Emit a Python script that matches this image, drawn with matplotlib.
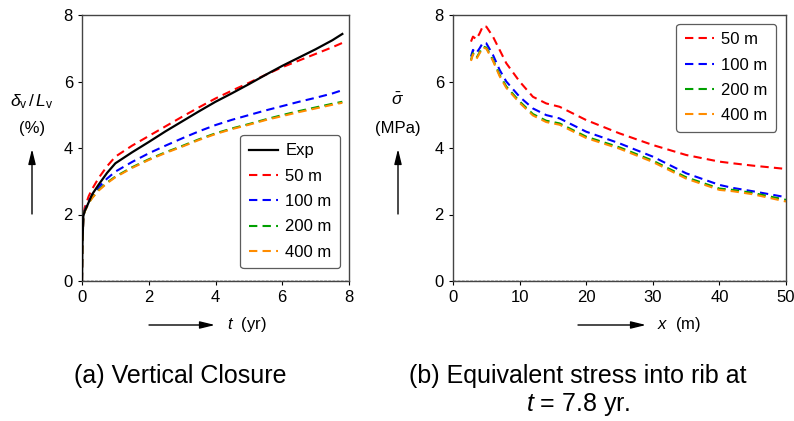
import matplotlib
matplotlib.use("Agg")
import matplotlib.pyplot as plt
import numpy as np

plt.rcParams['font.family'] = ['Liberation Sans', 'DejaVu Sans']
plt.rcParams['mathtext.fontset'] = 'custom'
plt.rcParams['mathtext.it'] = 'Liberation Sans:italic'
plt.rcParams['mathtext.rm'] = 'Liberation Sans'

# ---- (a) vertical closure ----
t_exp = [0.0, 0.01, 0.04, 0.08, 0.15, 0.3, 0.5, 0.75, 1.0, 1.5, 2.0, 2.5, 3.0, 3.5, 4.0, 4.5, 5.0, 5.5, 6.0, 6.5, 7.0, 7.5, 7.8]
v_exp = [0.0, 1.0, 1.95, 2.1, 2.25, 2.6, 2.9, 3.25, 3.54, 3.87, 4.18, 4.5, 4.8, 5.1, 5.39, 5.65, 5.92, 6.2, 6.47, 6.72, 6.97, 7.24, 7.43]

t_sim = [0.0, 0.01, 0.04, 0.08, 0.2, 0.3, 0.5, 0.75, 1.0, 1.5, 2.0, 2.5, 3.0, 3.5, 4.0, 4.5, 5.0, 5.5, 6.0, 6.5, 7.0, 7.5, 7.8]
v_50 = [0.0, 1.0, 1.95, 2.2, 2.55, 2.76, 3.1, 3.45, 3.74, 4.07, 4.36, 4.65, 4.94, 5.22, 5.49, 5.73, 5.96, 6.2, 6.43, 6.63, 6.83, 7.03, 7.16]
v_100 = [0.0, 1.0, 1.95, 2.12, 2.4, 2.55, 2.82, 3.08, 3.29, 3.58, 3.84, 4.07, 4.29, 4.5, 4.69, 4.85, 4.99, 5.13, 5.26, 5.39, 5.51, 5.64, 5.74]
v_200 = [0.0, 1.0, 1.95, 2.1, 2.35, 2.5, 2.74, 2.96, 3.14, 3.42, 3.66, 3.87, 4.06, 4.26, 4.44, 4.59, 4.72, 4.86, 4.99, 5.11, 5.22, 5.33, 5.39]
v_400 = [0.0, 1.0, 1.95, 2.09, 2.34, 2.49, 2.72, 2.94, 3.12, 3.4, 3.64, 3.85, 4.04, 4.24, 4.42, 4.57, 4.7, 4.84, 4.96, 5.08, 5.19, 5.3, 5.36]

# ---- (b) equivalent stress ----
x_pos = [2.7, 3.0, 3.5, 4.0, 4.5, 5.0, 6.0, 7.0, 8.0, 10.0, 12.0, 14.0, 16.0, 18.0, 20.0, 25.0, 30.0, 35.0, 40.0, 42.0, 45.0, 50.0]
s_50 = [7.2, 7.35, 7.27, 7.45, 7.67, 7.65, 7.35, 6.95, 6.55, 6.0, 5.54, 5.34, 5.24, 5.04, 4.84, 4.44, 4.09, 3.79, 3.59, 3.54, 3.47, 3.37]
s_100 = [6.75, 6.95, 6.85, 7.0, 7.17, 7.15, 6.8, 6.35, 6.0, 5.54, 5.19, 4.99, 4.89, 4.69, 4.49, 4.14, 3.74, 3.24, 2.89, 2.8, 2.7, 2.52]
s_200 = [6.65, 6.85, 6.7, 6.88, 7.05, 7.02, 6.65, 6.2, 5.85, 5.4, 5.02, 4.82, 4.74, 4.54, 4.34, 4.02, 3.62, 3.12, 2.78, 2.74, 2.65, 2.44]
s_400 = [6.62, 6.82, 6.67, 6.85, 7.02, 6.99, 6.62, 6.16, 5.81, 5.36, 4.98, 4.78, 4.7, 4.5, 4.3, 3.98, 3.58, 3.08, 2.74, 2.7, 2.61, 2.39]

labels = ['50 m', '100 m', '200 m', '400 m']
colors = ['#ff0000', '#0000ff', '#00a000', '#ff8c00']

fig = plt.figure(figsize=(7.94, 4.21), dpi=100)
axa = fig.add_axes([82/794, 1 - 281/421, 267/794, 266/421])
axb = fig.add_axes([453/794, 1 - 281/421, 333/794, 266/421])

dash = (0, (4, 2.5))
axa.plot(t_exp, v_exp, color='k', lw=1.6, label='Exp', zorder=3)
for v, lab, c in zip([v_50, v_100, v_200, v_400], labels, colors):
    axa.plot(t_sim, v, color=c, lw=1.5, ls=dash, label=lab)
for s, lab, c in zip([s_50, s_100, s_200, s_400], labels, colors):
    axb.plot(x_pos, s, color=c, lw=1.5, ls=dash, label=lab)

for ax in (axa, axb):
    ax.axhline(0, color='k', lw=1.0, ls=(0, (2, 1)), zorder=4)
    ax.set_ylim(0, 8)
    ax.set_yticks([0, 2, 4, 6, 8])
    ax.tick_params(direction='out', length=3, width=0.8, labelsize=12, colors='k', top=False, right=False)
    for sp in ax.spines.values():
        sp.set_color('#444444')
        sp.set_linewidth(1.0)

axa.set_xlim(0, 8)
axa.set_xticks([0, 2, 4, 6, 8])
axb.set_xlim(0, 50)
axb.set_xticks([0, 10, 20, 30, 40, 50])

legkw = dict(fontsize=12, frameon=True, fancybox=True, edgecolor='#333333',
             handlelength=1.75, handletextpad=0.45, borderpad=0.5, labelspacing=0.62,
             borderaxespad=0.3)
lega = axa.legend(loc='lower right', bbox_to_anchor=(0.985, 0.03), **legkw)
lega.get_frame().set_linewidth(0.9)
legb = axb.legend(loc='upper right', bbox_to_anchor=(0.985, 0.985), **legkw)
legb.get_frame().set_linewidth(0.9)

# y-axis labels with arrows
fig.text(32/794, 1 - 102/421, r'$\delta_{\mathrm{v}}\,/\,L_{\mathrm{v}}$', ha='center', va='center', fontsize=12.5)
fig.text(32/794, 1 - 129/421, '(%)', ha='center', va='center', fontsize=12)
fig.text(398/794, 1 - 100/421, r'$\bar{\sigma}$', ha='center', va='center', fontsize=12.5)
fig.text(398/794, 1 - 129/421, '(MPa)', ha='center', va='center', fontsize=12)
ap = dict(arrowstyle='-|>,head_length=0.9,head_width=0.22', color='k', lw=1.0,
          shrinkA=0, shrinkB=0)
for xp in (32, 398):
    fig.add_artist(matplotlib.text.Annotation('', xy=(xp/794, 1 - 149/421), xytext=(xp/794, 1 - 214/421),
                   xycoords='figure fraction', textcoords='figure fraction', arrowprops=ap))
# x-axis labels with arrows
fig.add_artist(matplotlib.text.Annotation('', xy=(215/794, 1 - 325/421), xytext=(149/794, 1 - 325/421),
               xycoords='figure fraction', textcoords='figure fraction', arrowprops=ap))
fig.text(227/794, 1 - 325/421, r'$t$  (yr)', ha='left', va='center', fontsize=12)
fig.add_artist(matplotlib.text.Annotation('', xy=(646/794, 1 - 325/421), xytext=(578/794, 1 - 325/421),
               xycoords='figure fraction', textcoords='figure fraction', arrowprops=ap))
fig.text(657/794, 1 - 325/421, r'$x$  (m)', ha='left', va='center', fontsize=12)

# captions
fig.text(180/794, 1 - 376/421, '(a) Vertical Closure', ha='center', va='center', fontsize=18)
fig.text(578/794, 1 - 376/421, '(b) Equivalent stress into rib at', ha='center', va='center', fontsize=18)
fig.text(578/794, 1 - 404/421, r'$t$ = 7.8 yr.', ha='center', va='center', fontsize=18)

fig.savefig('out.png', dpi=100)
